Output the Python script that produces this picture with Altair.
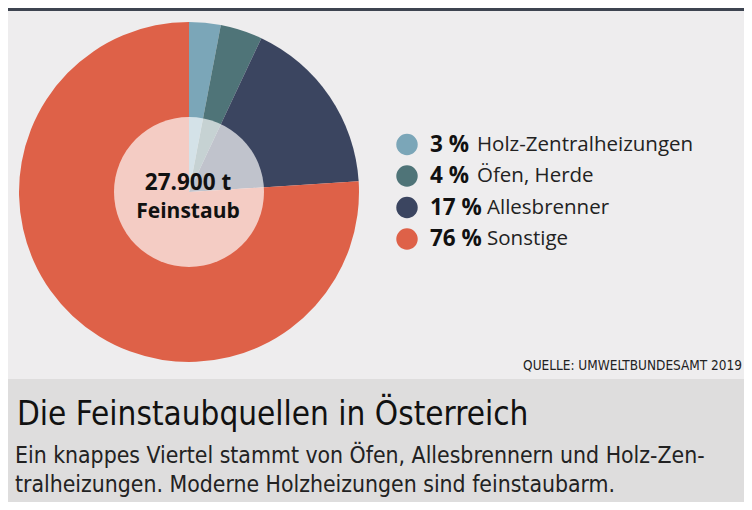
import altair as alt
import pandas as pd

# ---- data ----
categories = ["Holz-Zentralheizungen", "Öfen, Herde", "Allesbrenner", "Sonstige"]
shares = [3, 4, 17, 76]
colors = ["#7ba6b8", "#4f7478", "#3b4560", "#de6148"]
center_lines = ["27.900 t", "Feinstaub"]
title_text = "Die Feinstaubquellen in Österreich"
subtitle_lines = [
    "Ein knappes Viertel stammt von Öfen, Allesbrennern und Holz-Zen-",
    "tralheizungen. Moderne Holzheizungen sind feinstaubarm.",
]
source_text = "QUELLE: UMWELTBUNDESAMT 2019"

df = pd.DataFrame({
    "cat": categories,
    "value": shares,
    "idx": list(range(len(categories))),
    "pct": [f"{s} %" for s in shares],
})
one = pd.DataFrame({"a": [0]})

W, H = 736, 494
BG = "#eeedee"
PANEL = "#dedddd"
COND = "DejaVu Sans Condensed, sans-serif"
SANS = "Open Sans, Noto Sans, sans-serif"

color_scale = alt.Scale(domain=categories, range=colors)

top_line = alt.Chart(one).mark_rect(color="#3d4450").encode(
    x=alt.value(0), x2=alt.value(W), y=alt.value(0), y2=alt.value(3)
)
panel = alt.Chart(one).mark_rect(color=PANEL).encode(
    x=alt.value(0), x2=alt.value(740), y=alt.value(371), y2=alt.value(H)
)

pie = alt.Chart(df).mark_arc(radius=170).encode(
    theta=alt.Theta("value:Q", stack=True),
    order=alt.Order("idx:Q", sort="ascending"),
    color=alt.Color("cat:N", scale=color_scale, legend=None),
    x=alt.value(181),
    y=alt.value(184),
)
inner = alt.Chart(one).mark_arc(
    radius=75, theta=0, theta2=6.2832, color="white", opacity=0.68
).encode(x=alt.value(181), y=alt.value(184))

center1 = alt.Chart(one).mark_text(
    text=center_lines[0], font=SANS, fontWeight="bold", fontSize=22.5,
    align="center", baseline="alphabetic", color="#111111"
).encode(x=alt.value(180), y=alt.value(182))
center2 = alt.Chart(one).mark_text(
    text=center_lines[1], font=SANS, fontWeight="bold", fontSize=21,
    align="center", baseline="alphabetic", color="#111111"
).encode(x=alt.value(180), y=alt.value(210))

ypos = alt.Y("cat:N", sort=categories, axis=None,
             scale=alt.Scale(type="point", range=[136.5, 231], padding=0))

dots = alt.Chart(df).mark_circle(size=460, opacity=1).encode(
    x=alt.value(399), y=ypos,
    color=alt.Color("cat:N", scale=color_scale, legend=None),
)
pct_text = alt.Chart(df).mark_text(
    font=SANS, fontWeight="bold", fontSize=22.5, align="left",
    baseline="middle", color="#111111"
).encode(x=alt.value(422), y=ypos, text="pct:N")
lab_text = alt.Chart(df).transform_calculate(
    lx="datum.value < 10 ? 469 : 479"
).mark_text(
    font=SANS, fontSize=20.5, align="left", baseline="middle", color="#222222"
).encode(x=alt.X("lx:Q", scale=None), y=ypos, text="cat:N")

source = alt.Chart(one).mark_text(
    text=source_text, font=COND, fontSize=13.5, align="right",
    baseline="alphabetic", color="#222222"
).encode(x=alt.value(734), y=alt.value(362))

title = alt.Chart(one).mark_text(
    text=title_text, font=COND, fontSize=33, align="left",
    baseline="alphabetic", color="#111111"
).encode(x=alt.value(9), y=alt.value(417))
sub1 = alt.Chart(one).mark_text(
    text=subtitle_lines[0], font=COND, fontSize=22.8, align="left",
    baseline="alphabetic", color="#222222"
).encode(x=alt.value(7), y=alt.value(455))
sub2 = alt.Chart(one).mark_text(
    text=subtitle_lines[1], font=COND, fontSize=22.8, align="left",
    baseline="alphabetic", color="#222222"
).encode(x=alt.value(7), y=alt.value(484))

chart = alt.layer(
    top_line, panel, pie, inner, center1, center2, dots, pct_text, lab_text,
    source, title, sub1, sub2
).properties(
    width=W, height=H, background=BG, padding=0,
    autosize=alt.AutoSizeParams(type="none"),
).configure_view(stroke=None)

chart.save("out.html", embed_options={"renderer": "svg", "actions": False})
